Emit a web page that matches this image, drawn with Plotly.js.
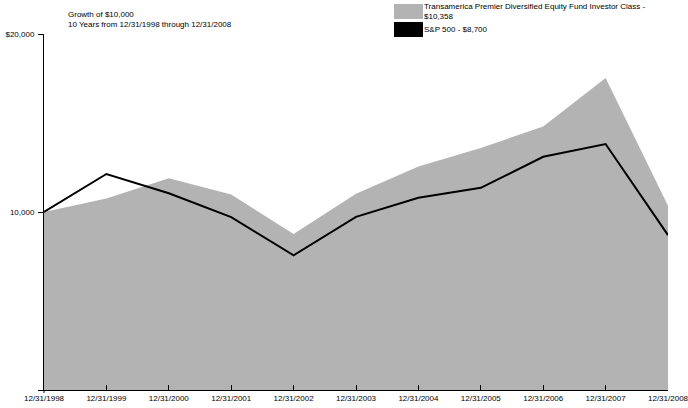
<!DOCTYPE html>
<html>
<head>
<meta charset="utf-8">
<script src="https://cdn.plot.ly/plotly-3.0.1.min.js"></script>
<style>html,body{margin:0;padding:0;background:#fff;}#chart{width:688px;height:408px;}</style>
</head>
<body>
<div id="chart"></div>
<script>
const dates = ["12/31/1998","12/31/1999","12/31/2000","12/31/2001","12/31/2002","12/31/2003","12/31/2004","12/31/2005","12/31/2006","12/31/2007","12/31/2008"];
const fundValues = [10000, 10760, 11900, 10990, 8760, 11030, 12560, 13600, 14800, 17530, 10358];
const spValues = [10000, 12135, 11050, 9710, 7570, 9730, 10800, 11360, 13100, 13820, 8700];
const fundName = "Transamerica Premier Diversified Equity Fund Investor Class -<br>$10,358";
const spName = "S&P 500 - $8,700";
const titleLines = ["Growth of $10,000", "10 Years from 12/31/1998 through 12/31/2008"];
const yTickVals = [0, 10000, 20000];
const yTickText = ["", "10,000", "$20,000"];

const FONT = "Liberation Sans, Arial, sans-serif";
const xIdx = dates.map((d, i) => i);

const traces = [
  {
    x: xIdx, y: fundValues, type: "scatter", mode: "lines",
    fill: "tozeroy", fillcolor: "#b3b3b3",
    line: {width: 0, color: "#b3b3b3"}, name: fundName, showlegend: false,
    hoverinfo: "skip"
  },
  {
    x: xIdx, y: spValues, type: "scatter", mode: "lines",
    line: {width: 2, color: "#000000"}, name: spName, showlegend: false,
    hoverinfo: "skip"
  }
];

const layout = {
  width: 688, height: 408,
  margin: {l: 44, r: 20, t: 34, b: 18, pad: 0},
  paper_bgcolor: "#ffffff", plot_bgcolor: "#ffffff",
  font: {family: FONT, size: 8, color: "#000"},
  showlegend: false,
  xaxis: {
    range: [0, 10], tickvals: xIdx, ticktext: dates,
    showgrid: false, zeroline: false,
    showline: true, linecolor: "#000", linewidth: 1,
    ticks: "inside", ticklen: 5, tickcolor: "#000", tickwidth: 1,
    tickfont: {family: FONT, size: 8, color: "#000"},
    ticklabeloverflow: "allow",
    fixedrange: true
  },
  yaxis: {
    range: [0, 20000], tickvals: yTickVals, ticktext: yTickText,
    showgrid: false, zeroline: false,
    showline: true, linecolor: "#000", linewidth: 1,
    ticks: "outside", ticklen: 5, tickcolor: "#000", tickwidth: 1,
    tickfont: {family: FONT, size: 8, color: "#000"},
    ticklabelstandoff: 2,
    fixedrange: true
  },
  shapes: [
    {type: "rect", xref: "paper", yref: "paper",
     x0: (394-44)/624, x1: (423-44)/624, y0: (390-19)/356, y1: (390-4)/356,
     fillcolor: "#b3b3b3", line: {width: 0}},
    {type: "rect", xref: "paper", yref: "paper",
     x0: (394-44)/624, x1: (423-44)/624, y0: (390-37)/356, y1: (390-22)/356,
     fillcolor: "#000000", line: {width: 0}},
    {type: "line", xref: "paper", yref: "paper",
     x0: 0, x1: 0, y0: -3/356, y1: 0, line: {color: "#000", width: 1}}
  ],
  annotations: [
    {text: titleLines[0], xref: "paper", yref: "paper", x: (66-44)/624, y: (390-15)/356,
     xanchor: "left", yanchor: "middle", showarrow: false, font: {family: FONT, size: 8, color: "#000"}},
    {text: titleLines[1], xref: "paper", yref: "paper", x: (66-44)/624, y: (390-24)/356,
     xanchor: "left", yanchor: "middle", showarrow: false, font: {family: FONT, size: 8, color: "#000"}},
    {text: fundName, xref: "paper", yref: "paper", x: (422-44)/624, y: (390-12)/356,
     xanchor: "left", yanchor: "middle", align: "left", showarrow: false,
     font: {family: FONT, size: 8, color: "#000"}},
    {text: spName, xref: "paper", yref: "paper", x: (422-44)/624, y: (390-30)/356,
     xanchor: "left", yanchor: "middle", align: "left", showarrow: false,
     font: {family: FONT, size: 8, color: "#000"}}
  ]
};

Plotly.newPlot("chart", traces, layout, {displayModeBar: false, staticPlot: true});
</script>
</body>
</html>
